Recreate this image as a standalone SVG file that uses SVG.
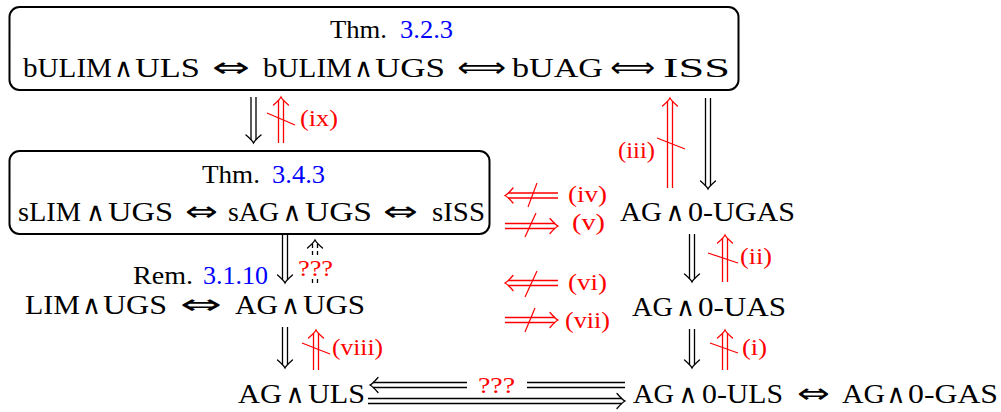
<svg xmlns="http://www.w3.org/2000/svg" xmlns:xlink="http://www.w3.org/1999/xlink" width="1001" height="412" viewBox="0 0 1001 412">
<style>
text{font-family:"Liberation Serif","DejaVu Serif",serif;}
.m{font-size:28px;fill:#000;}
.s{font-family:"DejaVu Serif","Liberation Serif",serif;font-size:26px;fill:#000;text-anchor:middle;}
.a{font-family:"DejaVu Sans","Liberation Sans",sans-serif;font-size:28px;fill:#000;}
.h{font-size:26px;fill:#000;}
.bl{fill:#0000ff;}
.r{font-size:24px;fill:#ff0000;}
.box{fill:none;stroke:#000;stroke-width:2;}
.k{stroke:#000;fill:none;stroke-width:1.3;}
.rd{stroke:#ff0000;fill:none;stroke-width:1.3;}
.st{stroke:#ff0000;stroke-width:1.2;}
.dash path{stroke-dasharray:4 3;}
</style>
<defs>
<path id="tip" d="M-8,-7.5 C-5,-4 -2,-1 0,0 C-2,1 -5,4 -8,7.5" stroke-linecap="round"/>
</defs>

<g id="node-thm323">
<rect class="box" x="9.5" y="7" width="729" height="83" rx="10"/>
<text class="h" x="330" y="38" textLength="57" lengthAdjust="spacingAndGlyphs">Thm.</text>
<text class="h bl" x="400" y="38" textLength="53" lengthAdjust="spacingAndGlyphs">3.2.3</text>
<text class="m" x="23" y="77" textLength="89" lengthAdjust="spacingAndGlyphs">bULIM</text>
<text class="s" x="123.5" y="77">∧</text>
<text class="m" x="135" y="77" textLength="65" lengthAdjust="spacingAndGlyphs">ULS</text>
<text class="a" x="212" y="77" textLength="38" lengthAdjust="spacingAndGlyphs">⇔</text>
<text class="m" x="263" y="77" textLength="89" lengthAdjust="spacingAndGlyphs">bULIM</text>
<text class="s" x="363.5" y="77">∧</text>
<text class="m" x="375" y="77" textLength="70" lengthAdjust="spacingAndGlyphs">UGS</text>
<text class="a" x="457" y="77" textLength="49" lengthAdjust="spacingAndGlyphs">⟺</text>
<text class="m" x="512" y="77" textLength="91" lengthAdjust="spacingAndGlyphs">bUAG</text>
<text class="a" x="610" y="77" textLength="45" lengthAdjust="spacingAndGlyphs">⟺</text>
<text class="m" x="663" y="77" textLength="67" lengthAdjust="spacingAndGlyphs">ISS</text>
</g>

<g id="node-thm343">
<rect class="box" x="9.5" y="151" width="480" height="83" rx="10"/>
<text class="h" x="202" y="183" textLength="58" lengthAdjust="spacingAndGlyphs">Thm.</text>
<text class="h bl" x="272" y="183" textLength="53" lengthAdjust="spacingAndGlyphs">3.4.3</text>
<text class="m" x="18" y="221" textLength="63" lengthAdjust="spacingAndGlyphs">sLIM</text>
<text class="s" x="95.5" y="221">∧</text>
<text class="m" x="108" y="221" textLength="65" lengthAdjust="spacingAndGlyphs">UGS</text>
<text class="a" x="185" y="221" textLength="33" lengthAdjust="spacingAndGlyphs">⇔</text>
<text class="m" x="228" y="221" textLength="51" lengthAdjust="spacingAndGlyphs">sAG</text>
<text class="s" x="292" y="221">∧</text>
<text class="m" x="305" y="221" textLength="67" lengthAdjust="spacingAndGlyphs">UGS</text>
<text class="a" x="383" y="221" textLength="35" lengthAdjust="spacingAndGlyphs">⇔</text>
<text class="m" x="432" y="221" textLength="53" lengthAdjust="spacingAndGlyphs">sISS</text>
</g>

<g id="node-ag-0ugas">
<text class="m" x="620" y="221" textLength="42" lengthAdjust="spacingAndGlyphs">AG</text>
<text class="s" x="675" y="221">∧</text>
<text class="m" x="688" y="221" textLength="107" lengthAdjust="spacingAndGlyphs">0-UGAS</text>
</g>

<g id="node-ag-0uas">
<text class="m" x="632" y="316" textLength="41" lengthAdjust="spacingAndGlyphs">AG</text>
<text class="s" x="685.5" y="316">∧</text>
<text class="m" x="698" y="316" textLength="88" lengthAdjust="spacingAndGlyphs">0-UAS</text>
</g>

<g id="node-ag-ugs">
<text class="h" x="133" y="284" textLength="60" lengthAdjust="spacingAndGlyphs">Rem.</text>
<text class="h bl" x="203" y="284" textLength="65" lengthAdjust="spacingAndGlyphs">3.1.10</text>
<text class="m" x="25" y="314" textLength="55" lengthAdjust="spacingAndGlyphs">LIM</text>
<text class="s" x="91.5" y="314">∧</text>
<text class="m" x="103" y="314" textLength="64" lengthAdjust="spacingAndGlyphs">UGS</text>
<text class="a" x="180" y="314" textLength="42" lengthAdjust="spacingAndGlyphs">⇔</text>
<text class="m" x="235" y="314" textLength="43" lengthAdjust="spacingAndGlyphs">AG</text>
<text class="s" x="290.5" y="314">∧</text>
<text class="m" x="303" y="314" textLength="62" lengthAdjust="spacingAndGlyphs">UGS</text>
</g>

<g id="node-ag-uls">
<text class="m" x="238" y="403" textLength="44" lengthAdjust="spacingAndGlyphs">AG</text>
<text class="s" x="295" y="403">∧</text>
<text class="m" x="308" y="403" textLength="57" lengthAdjust="spacingAndGlyphs">ULS</text>
</g>

<g id="node-ag-0uls">
<text class="m" x="633" y="403" textLength="41" lengthAdjust="spacingAndGlyphs">AG</text>
<text class="s" x="688" y="403">∧</text>
<text class="m" x="702" y="403" textLength="81" lengthAdjust="spacingAndGlyphs">0-ULS</text>
<text class="a" x="797" y="403" textLength="33" lengthAdjust="spacingAndGlyphs">⇔</text>
<text class="m" x="842" y="403" textLength="43" lengthAdjust="spacingAndGlyphs">AG</text>
<text class="s" x="896" y="403">∧</text>
<text class="m" x="908" y="403" textLength="90" lengthAdjust="spacingAndGlyphs">0-GAS</text>
</g>

<g id="connectors">
<!-- black implications -->
<g class="k" transform="translate(253.5,97) rotate(90)"><path d="M0,-2.5H43M0,2.5H43"/><use xlink:href="#tip" href="#tip" x="46"/></g>
<g class="k" transform="translate(708,98) rotate(90)"><path d="M0,-2.5H88M0,2.5H88"/><use xlink:href="#tip" href="#tip" x="91"/></g>
<g class="k" transform="translate(692,234) rotate(90)"><path d="M0,-2.5H45M0,2.5H45"/><use xlink:href="#tip" href="#tip" x="48"/></g>
<g class="k" transform="translate(692,329) rotate(90)"><path d="M0,-2.5H36M0,2.5H36"/><use xlink:href="#tip" href="#tip" x="39"/></g>
<g class="k" transform="translate(285,233) rotate(90)"><path d="M0,-2.5H47M0,2.5H47"/><use xlink:href="#tip" href="#tip" x="50"/></g>
<g class="k" transform="translate(285,327) rotate(90)"><path d="M0,-2.5H38M0,2.5H38"/><use xlink:href="#tip" href="#tip" x="41"/></g>
<g class="k dash" transform="translate(315,283) rotate(-90)"><path d="M0,-2.5H40M0,2.5H40"/><use xlink:href="#tip" href="#tip" x="43" style="stroke-dasharray:none"/></g>
<g class="k">
<path d="M373,382.5H467M373,387.5H467M527,382.5H625M527,387.5H625"/>
<use xlink:href="#tip" href="#tip" transform="translate(370,385) rotate(180)"/>
<path d="M368,398.5H622M368,403.5H622"/>
<use xlink:href="#tip" href="#tip" transform="translate(625,401)"/>
</g>

<!-- red non-implications -->
<g class="rd" transform="translate(281,143) rotate(-90)"><path d="M0,-2.5H43M0,2.5H43"/><use xlink:href="#tip" href="#tip" x="46"/></g>
<line class="st" x1="267" y1="113" x2="295" y2="125"/>
<g class="rd" transform="translate(670,188) rotate(-90)"><path d="M0,-2.5H87M0,2.5H87"/><use xlink:href="#tip" href="#tip" x="90"/></g>
<line class="st" x1="657" y1="138" x2="685" y2="149"/>
<g class="rd" transform="translate(725,282) rotate(-90)"><path d="M0,-2.5H44M0,2.5H44"/><use xlink:href="#tip" href="#tip" x="47"/></g>
<line class="st" x1="708" y1="253" x2="738" y2="263"/>
<g class="rd" transform="translate(725,370) rotate(-90)"><path d="M0,-2.5H37M0,2.5H37"/><use xlink:href="#tip" href="#tip" x="40"/></g>
<line class="st" x1="710" y1="343" x2="738" y2="353"/>
<g class="rd" transform="translate(316,370) rotate(-90)"><path d="M0,-2.5H37M0,2.5H37"/><use xlink:href="#tip" href="#tip" x="40"/></g>
<line class="st" x1="302" y1="343" x2="330" y2="354"/>
<g class="rd" transform="translate(558,195.5) rotate(180)"><path d="M0,-2.5H50M0,2.5H50"/><use xlink:href="#tip" href="#tip" x="53"/></g>
<line class="st" x1="528" y1="207" x2="537" y2="183"/>
<g class="rd" transform="translate(505,226)"><path d="M0,-2.5H50M0,2.5H50"/><use xlink:href="#tip" href="#tip" x="53"/></g>
<line class="st" x1="525" y1="237" x2="536" y2="213"/>
<g class="rd" transform="translate(558,283) rotate(180)"><path d="M0,-2.5H50M0,2.5H50"/><use xlink:href="#tip" href="#tip" x="53"/></g>
<line class="st" x1="525" y1="297" x2="537" y2="271"/>
<g class="rd" transform="translate(505,320)"><path d="M0,-2.5H50M0,2.5H50"/><use xlink:href="#tip" href="#tip" x="53"/></g>
<line class="st" x1="525" y1="332" x2="535" y2="308"/>

<!-- labels -->
<rect x="297" y="257" width="38" height="20" fill="#fff"/>
<text class="r" x="298" y="276" textLength="35" lengthAdjust="spacingAndGlyphs">???</text>
<text class="r" x="478" y="393" textLength="37" lengthAdjust="spacingAndGlyphs">???</text>
<text class="r" x="300" y="126" textLength="38" lengthAdjust="spacingAndGlyphs">(ix)</text>
<text class="r" x="618" y="158" textLength="37" lengthAdjust="spacingAndGlyphs">(iii)</text>
<text class="r" x="568" y="202" textLength="39" lengthAdjust="spacingAndGlyphs">(iv)</text>
<text class="r" x="572" y="230" textLength="33" lengthAdjust="spacingAndGlyphs">(v)</text>
<text class="r" x="740" y="264" textLength="32" lengthAdjust="spacingAndGlyphs">(ii)</text>
<text class="r" x="568" y="290" textLength="39" lengthAdjust="spacingAndGlyphs">(vi)</text>
<text class="r" x="565" y="328" textLength="45" lengthAdjust="spacingAndGlyphs">(vii)</text>
<text class="r" x="742" y="355" textLength="25" lengthAdjust="spacingAndGlyphs">(i)</text>
<text class="r" x="332" y="355" textLength="51" lengthAdjust="spacingAndGlyphs">(viii)</text>
</g>
</svg>
